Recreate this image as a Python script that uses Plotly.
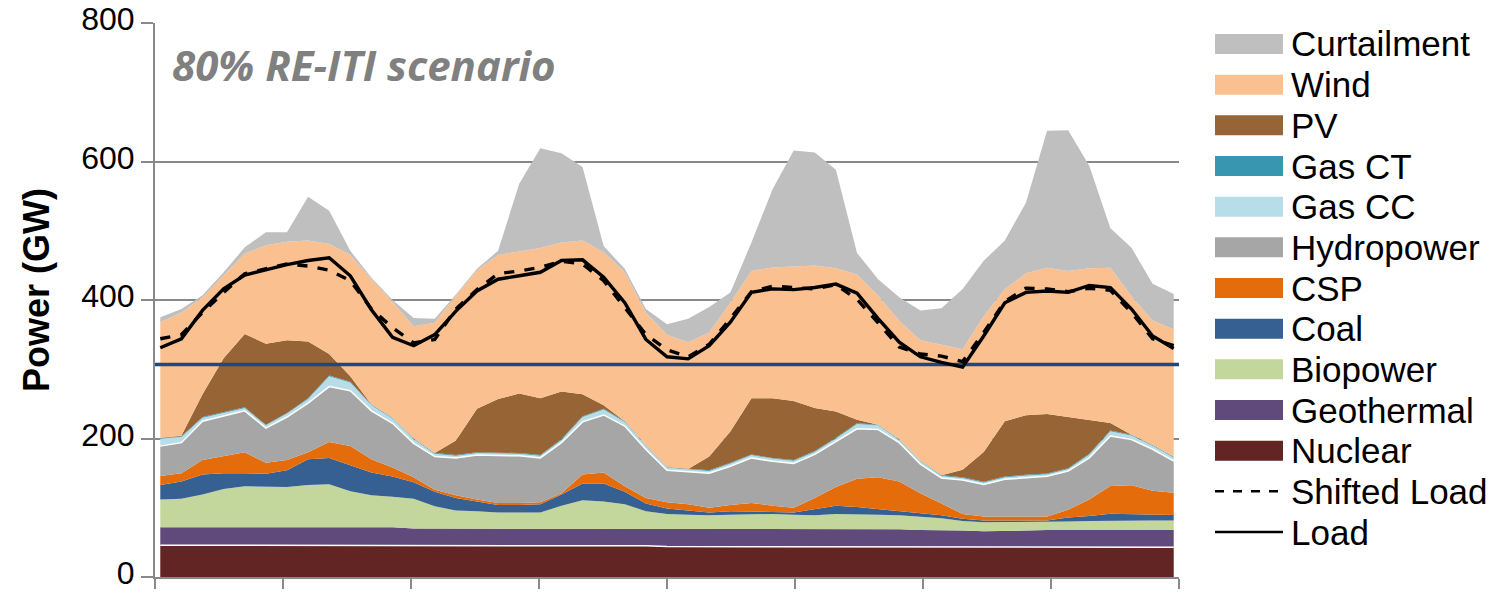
import plotly.graph_objects as go

# ---------------- data (GW), 2-hour steps over 4 days ----------------
hours = list(range(0, 97, 2))

nuclear = [46, 46, 46, 46, 46, 46, 46, 46, 46, 46, 46, 46,
           45, 45, 45, 45, 45, 45, 45, 45, 45, 45, 45, 45,
           44, 44, 44, 44, 44, 44, 44, 44, 44, 44, 44, 44,
           43, 43, 43, 43, 43, 43, 43, 43, 43, 43, 43, 43, 43]
geothermal = [26, 26, 26, 26, 26, 26, 26, 26, 26, 26, 26, 26,
              25, 25, 25, 25, 25, 25, 25, 25, 25, 25, 25, 25,
              25, 25, 25, 25, 25, 25, 25, 25, 25, 25, 25, 25,
              25, 25, 24, 23, 23, 24, 25, 25, 25, 25, 25, 25, 25]
biopower = [40, 41, 47, 55, 59, 58, 58, 61, 62, 52, 46, 44,
            43, 32, 26, 25, 23, 23, 23, 33, 41, 39, 35, 25,
            22, 21, 20, 21, 22, 22, 21, 20, 22, 22, 21, 20,
            19, 17, 14, 13, 13.5, 12.5, 11.5, 12, 13, 13.5, 13.5, 13.5, 13.5]
coal = [21, 25, 29, 23, 19, 19, 24, 37, 38, 38, 33, 29,
        24, 21, 18, 14, 11, 11, 12, 16, 24, 26, 18, 11,
        8, 6, 4, 5, 4, 3, 3, 9, 12, 10, 8, 6,
        5, 4, 3, 2.5, 2, 2, 2, 6, 7, 10, 9, 8, 8]
csp = [13, 12, 21, 24, 30, 16, 15, 10, 23, 27, 19, 13,
       7, 3, 4, 3, 3, 3, 3, 2, 13, 16, 8, 8,
       9, 9, 7, 9, 12, 9, 7, 16, 27, 41, 46, 43,
       29, 17, 7, 6, 5.5, 6, 6, 11, 24, 40, 42, 35, 32]
hydropower = [43, 44, 56, 58, 60, 50, 62, 71, 80, 80, 70, 64,
              49, 48, 54, 64, 68, 68, 64, 73, 76, 83, 87, 70,
              46, 47, 50, 56, 65, 64, 64, 63, 65, 72, 69, 56,
              42, 37, 49, 46, 54, 56, 58, 56, 60, 72, 66, 60, 46]
gas_cc = [11, 8, 5, 5, 4, 4, 5, 6, 15, 12, 8, 7,
          6, 4, 3, 3, 3, 3, 3, 4, 7, 8, 6, 5,
          4, 3, 3, 4, 4, 4, 4, 4, 5, 7, 6, 4,
          4, 3, 3, 3, 3, 3, 3, 3, 5, 7, 6, 5, 5]
gas_ct = [1] * 49
pv = [0, 1, 33, 78, 106, 117, 105, 82, 31, 8, 0, 0,
      0, 0, 21, 63, 78, 86, 82, 69, 32, 5, 0, 0,
      0, 0, 20, 45, 81, 86, 85, 62, 38, 5, 0, 0,
      0, 0, 11, 43, 80, 86, 86, 74, 48, 11, 0, 0, 0]
wind = [167, 178, 140, 119, 116, 142, 142, 146, 159, 175, 181, 167,
        162, 188, 209, 200, 208, 205, 217, 215, 222, 221, 215, 192,
        191, 183, 179, 186, 184, 189, 195, 206, 207, 210, 186, 171,
        174, 189, 174, 196, 191, 205, 211, 211, 220, 224, 200, 180, 184]
curtailment = [7, 5, 3, 5, 9, 19, 14, 63, 48, 6, 2, 3,
               12, 6, 2, 2, 6, 98, 144, 129, 106, 9, 5, 5,
               15, 34, 37, 15, 41, 113, 167, 163, 142, 31, 24, 34,
               43, 52, 87, 80, 70, 102, 198, 203, 148, 57, 70, 53, 51]
load = [331, 344, 385, 416, 436, 444, 451, 457, 461, 435, 386, 346,
        334, 350, 384, 413, 430, 435, 440, 457, 458, 433, 396, 343,
        318, 315, 334, 368, 411, 416, 415, 418, 423, 410, 373, 339,
        318, 310, 303, 348, 396, 411, 413, 411, 421, 418, 387, 348, 330]
shifted_load = [344, 350, 382, 411, 438, 445, 452, 449, 443, 428, 387, 360,
                338, 343, 387, 415, 438, 442, 447, 456, 452, 428, 389, 350,
                328, 318, 336, 373, 412, 420, 418, 416, 422, 401, 367, 332,
                322, 319, 311, 353, 398, 417, 416, 412, 417, 414, 382, 344, 334]
threshold_gw = 307

y_ticks = [0, 200, 400, 600, 800]
title_text = "80% RE-ITI scenario"
y_title = "Power (GW)"

# ---------------- styling ----------------
colors = {
    "Nuclear": "#632523", "Geothermal": "#604A7B", "Biopower": "#C3D69B",
    "Coal": "#376092", "CSP": "#E46C0A", "Hydropower": "#A6A6A6",
    "Gas CC": "#B7DDE8", "Gas CT": "#3896B0", "PV": "#976535",
    "Wind": "#FAC090", "Curtailment": "#BFBFBF",
}
stack = [("Nuclear", nuclear), ("Geothermal", geothermal), ("Biopower", biopower),
         ("Coal", coal), ("CSP", csp), ("Hydropower", hydropower), ("Gas CC", gas_cc),
         ("Gas CT", gas_ct), ("PV", pv), ("Wind", wind), ("Curtailment", curtailment)]

FONT = "Liberation Sans, Arial, sans-serif"
W, H = 1511, 594
L, T = 155, 23
B = H - 577
R = W - 1179
PW, PH = W - L - R, H - T - B
x_range = [-0.5, 96.5]


def px_x(p):
    return (p - L) / PW


def px_y(p):
    return (H - B - p) / PH


fig = go.Figure()
for name, vals in stack:
    white_edge = name in ("Nuclear", "Hydropower")
    fig.add_trace(go.Scatter(
        x=hours, y=vals, name=name, mode="lines", stackgroup="gen",
        line=dict(width=1.5 if white_edge else 0,
                  color="white" if white_edge else colors[name]),
        fillcolor=colors[name], showlegend=False))

fig.add_trace(go.Scatter(x=x_range, y=[threshold_gw, threshold_gw], mode="lines",
                         line=dict(color="#1F497D", width=3.5), showlegend=False))
fig.add_trace(go.Scatter(x=hours, y=shifted_load, name="Shifted Load", mode="lines",
                         line=dict(color="black", width=3.4, dash="dash"), showlegend=False))
fig.add_trace(go.Scatter(x=hours, y=load, name="Load", mode="lines",
                         line=dict(color="black", width=3.4), showlegend=False))

# ---------------- manual legend ----------------
legend_items = ["Curtailment", "Wind", "PV", "Gas CT", "Gas CC", "Hydropower", "CSP",
                "Coal", "Biopower", "Geothermal", "Nuclear", "Shifted Load", "Load"]
shapes = []
annotations = []
for i, name in enumerate(legend_items):
    cy = 44 + 40.67 * i
    if name in colors:
        shapes.append(dict(type="rect", xref="paper", yref="paper",
                           x0=px_x(1215), x1=px_x(1283), y0=px_y(cy + 10), y1=px_y(cy - 10),
                           fillcolor=colors[name], line=dict(width=0)))
    else:
        shapes.append(dict(type="line", xref="paper", yref="paper",
                           x0=px_x(1215), x1=px_x(1283), y0=px_y(cy), y1=px_y(cy),
                           line=dict(color="black", width=2.5,
                                     dash="dash" if name == "Shifted Load" else "solid")))
    annotations.append(dict(text=name, xref="paper", yref="paper", x=px_x(1289), y=px_y(cy),
                            xanchor="left", yanchor="middle", showarrow=False,
                            font=dict(family=FONT, size=35, color="black")))

annotations.append(dict(text="<b><i>" + title_text + "</i></b>", xref="paper", yref="paper",
                        x=px_x(170), y=px_y(65), xanchor="left", yanchor="middle",
                        showarrow=False,
                        font=dict(family="Open Sans, sans-serif", size=42, color="#808080")))
annotations.append(dict(text="<b>" + y_title + "</b>", xref="paper", yref="paper",
                        x=px_x(36), y=px_y(290), xanchor="center", yanchor="middle",
                        textangle=-90, showarrow=False,
                        font=dict(family=FONT, size=36, color="black")))

axis_gray = "#898989"
fig.update_layout(
    width=W, height=H, margin=dict(l=L, r=R, t=T, b=B, autoexpand=False),
    paper_bgcolor="white", plot_bgcolor="white",
    showlegend=False, shapes=shapes, annotations=annotations,
    xaxis=dict(range=x_range, showgrid=False, zeroline=False, showline=True, automargin=False,
               linecolor=axis_gray, linewidth=2, ticks="outside", ticklen=10, tickwidth=2,
               tickcolor=axis_gray, tickvals=[x_range[0] + 12.125 * i for i in range(9)],
               showticklabels=False),
    yaxis=dict(range=[0, 800], tickvals=y_ticks, showgrid=True, gridcolor=axis_gray,
               gridwidth=2, zeroline=False, showline=True, linecolor=axis_gray, linewidth=2,
               automargin=False, ticks="outside", ticklen=12, tickwidth=2, tickcolor=axis_gray,
               ticklabeloverflow="allow", ticklabelshift=-4,
               tickfont=dict(family=FONT, size=32, color="black")),
)

# remove the browser's default 8px page margin so the figure fills the window exactly
fig.write_html("out.html", config={"displayModeBar": False},
               post_script="document.body.style.margin='0px';document.body.style.overflow='hidden';")
